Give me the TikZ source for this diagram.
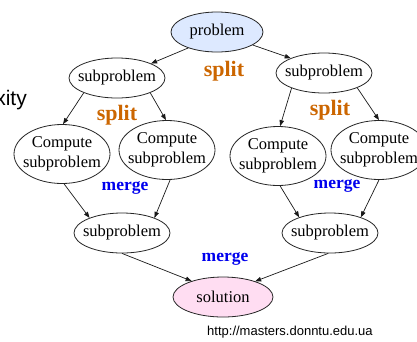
\documentclass[tikz,border=0pt]{standalone}
\usepackage{fontspec}
\setmainfont{Liberation Serif}
\newfontfamily\sansf{Liberation Sans}
\usetikzlibrary{shapes.geometric,arrows.meta}
\definecolor{probfill}{RGB}{221,233,255}
\definecolor{solfill}{RGB}{255,221,242}
\definecolor{splitc}{RGB}{204,102,0}
\definecolor{mergec}{RGB}{0,0,238}
\tikzset{
  ell/.style={ellipse,draw=black!85,line width=0.8pt,inner sep=0pt,minimum width=96pt,minimum height=40pt},
  cell/.style={ell,minimum height=59pt},
  txt/.style={font=\fontsize{16.5}{20}\selectfont,align=center,inner sep=0pt},
  splitlbl/.style={font=\fontsize{22}{24}\bfseries\selectfont,text=splitc,inner sep=0pt},
  mergelbl/.style={font=\fontsize{17.5}{20}\bfseries\selectfont,text=mergec,inner sep=0pt},
  arr/.style={-{Triangle[length=6pt,width=4.5pt]},line width=0.7pt,draw=black!90},
}
\begin{document}
\begin{tikzpicture}[x=1pt,y=-1pt]
\useasboundingbox (0,0) rectangle (417,341);
\fill[white] (0,0) rectangle (417,341);
% ellipses
\node[ell,fill=probfill,minimum width=92pt] (prob) at (217,32) {};
\node[txt] (probt) at (prob) {problem};
\node[ell] (subL) at (117,78) {};
\node[txt] (subLt) at (subL) {subproblem};
\node[ell] (subR) at (324,73) {};
\node[txt] (subRt) at (subR) {subproblem};
\node[cell] (c1) at (62,154) {};
\node[txt] (c1t) at (c1) {Compute\\subproblem};
\node[cell] (c2) at (167,150) {};
\node[txt] (c2t) at (c2) {Compute\\subproblem};
\node[cell] (c3) at (278,156) {};
\node[txt] (c3t) at (c3) {Compute\\subproblem};
\node[cell] (c4) at (379,150) {};
\node[txt] (c4t) at (c4) {Compute\\subproblem};
\node[ell] (bL) at (122,233) {};
\node[txt] (bLt) at (bL) {subproblem};
\node[ell] (bR) at (330,233) {};
\node[txt] (bRt) at (bR) {subproblem};
\node[ell,fill=solfill,minimum width=100pt,minimum height=40pt] (sol) at (223,297) {};
\node[txt] (solt) at (sol) {solution};
% connectors
\draw[arr] (prob.209) -- (subL.23);
\draw[arr] (prob.340) -- (subR.156);
\draw[arr] (subL.204) -- (c1.88);
\draw[arr] (subL.336) -- (c2.92);
\draw[arr] (subR.205) -- (c3.86);
\draw[arr] (subR.336) -- (c4.90);
\draw[arr] (c1.274) -- (bL.155);
\draw[arr] (c2.276) -- (bL.25);
\draw[arr] (c3.274) -- (bR.153);
\draw[arr] (c4.270) -- (bR.27);
\draw[arr] (bL.270) -- (sol.153);
\draw[arr] (bR.265) -- (sol.26);
% labels
\node[splitlbl] (s1) at (224,71) {split};
\node[splitlbl] (s2) at (117,115) {split};
\node[splitlbl] (s3) at (330,110) {split};
\node[mergelbl] (m1) at (125,188) {merge};
\node[mergelbl] (m2) at (337,186) {merge};
\node[mergelbl] (m3) at (225,259) {merge};
% side and footer text
\begin{scope}
\clip (0,0) rectangle (417,341);
\node[font=\sansf\fontsize{21}{24}\selectfont,anchor=base east,inner sep=0pt] (cx) at (27,105) {Complexity};
\end{scope}
\node[font=\sansf\fontsize{13}{15}\selectfont,anchor=west,inner sep=0pt] (url) at (207,332) {http://masters.donntu.edu.ua};
\end{tikzpicture}
\end{document}
